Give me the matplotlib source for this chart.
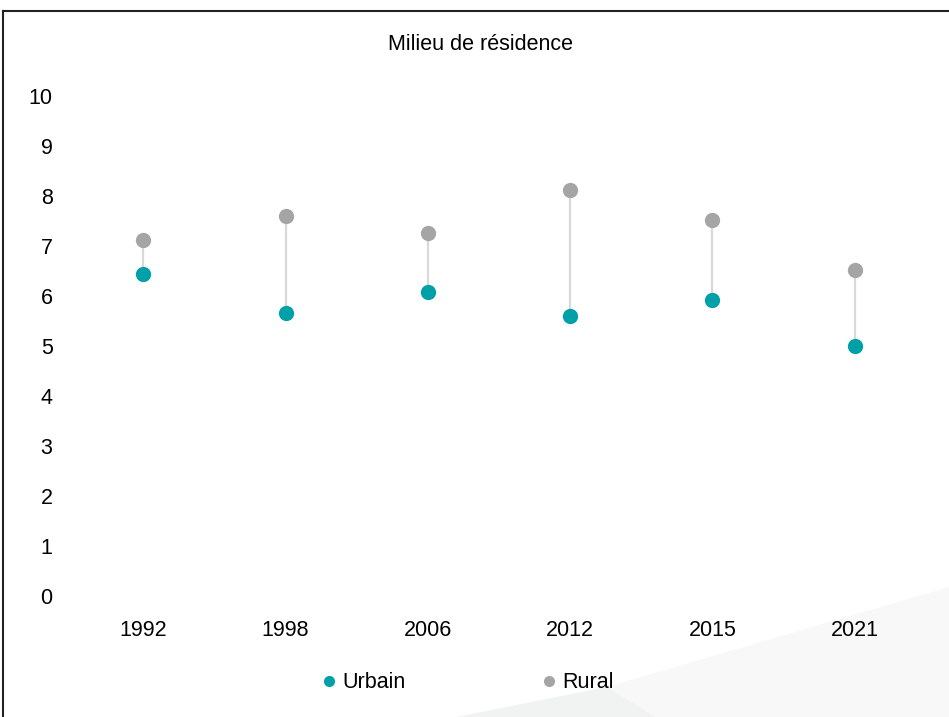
import matplotlib
matplotlib.use("Agg")
import matplotlib.pyplot as plt
from matplotlib.lines import Line2D
from matplotlib.patches import Polygon

# ---------------- data ----------------
years  = ["1992", "1998", "2006", "2012", "2015", "2021"]
urbain = [6.44, 5.66, 6.08, 5.60, 5.92, 5.00]
rural  = [7.12, 7.60, 7.26, 8.12, 7.52, 6.52]

TEAL = "#00a0a8"
GREY = "#a5a5a5"
LINK = "#d9d9d9"

plt.rcParams["font.family"] = ["Liberation Sans", "DejaVu Sans"]

W, H = 949, 717
fig = plt.figure(figsize=(W / 100, H / 100), dpi=100)

# faint background wedges, bottom right
def px(pts):
    return [(x / W, 1 - y / H) for x, y in pts]

fig.patches.append(Polygon(px([(457, 717), (607, 687), (949, 587), (949, 717)]),
                           closed=True, transform=fig.transFigure,
                           facecolor="#f8f8f8", edgecolor="none", zorder=-2))
fig.patches.append(Polygon(px([(457, 717), (607, 687), (655, 717)]),
                           closed=True, transform=fig.transFigure,
                           facecolor="#f1f2f2", edgecolor="none", zorder=-1))

# frame lines (top and left)
fig.add_artist(Line2D([3 / W, 1], [1 - 11 / H, 1 - 11 / H], transform=fig.transFigure,
                      color="#222222", lw=1.5))
fig.add_artist(Line2D([3 / W, 3 / W], [0, 1 - 11 / H], transform=fig.transFigure,
                      color="#222222", lw=1.5))

ax = fig.add_axes([72 / W, 1 - 596 / H, (926 - 72) / W, (596 - 96) / H])
ax.patch.set_alpha(0)
ax.set_zorder(2)

x = list(range(len(years)))
ax.vlines(x, urbain, rural, color=LINK, lw=1.6, zorder=1)
ax.plot(x, urbain, "o", color=TEAL, ms=11, mec="none", zorder=3, label="Urbain")
ax.plot(x, rural, "o", color=GREY, ms=11, mec="none", zorder=3, label="Rural")

ax.set_xlim(-0.5, len(years) - 0.5)
ax.set_ylim(0, 10)
ax.set_yticks(range(0, 11))
ax.set_xticks(x)
ax.set_xticklabels(years)
ax.tick_params(axis="both", length=0, labelsize=15.5, colors="#000000")
ax.tick_params(axis="y", pad=14)
ax.tick_params(axis="x", pad=17)
for s in ax.spines.values():
    s.set_visible(False)

fig.text(480 / W, 1 - 45 / H, "Milieu de résidence", ha="center", va="center", fontsize=15.5)

handles = [Line2D([], [], marker="o", ls="none", color=TEAL, ms=8, mec="none"),
           Line2D([], [], marker="o", ls="none", color=GREY, ms=8, mec="none")]
leg = fig.legend(handles, ["Urbain", "Rural"], loc="center", bbox_to_anchor=(466 / W, 1 - 683 / H),
                 ncol=2, frameon=False, fontsize=15.5, handletextpad=0.1, columnspacing=6.2,
                 handlelength=1.0)
leg.set_zorder(3)

fig.savefig("out.png", dpi=100)
